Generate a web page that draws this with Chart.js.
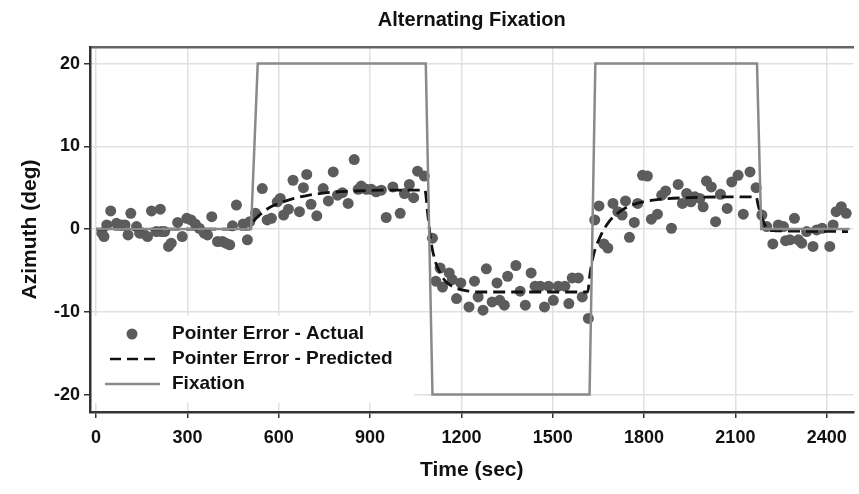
<!DOCTYPE html>
<html>
<head>
<meta charset="utf-8">
<title>Alternating Fixation</title>
<script src="https://cdn.jsdelivr.net/npm/chart.js@4.4.1/dist/chart.umd.min.js"></script>
<style>
  body { margin: 0; background: #fff; }
  canvas { display: block; }
</style>
</head>
<body>
<canvas id="chart" width="859" height="494"></canvas>
<script>
// pointer error - actual (time in sec, azimuth in deg)
var actualTime = [19, 26, 35, 48, 67, 84, 95, 105, 114, 133, 143, 154, 169, 182, 198, 211, 214, 225, 238, 247,
    268, 283, 298, 312, 326, 339, 355, 366, 380, 399, 415, 426, 439, 448, 461, 483, 497, 505,
    524, 546, 562, 576, 595, 605, 616, 632, 647, 668, 681, 692, 706, 725, 746, 763, 779, 793, 809, 828,
    848, 861, 871, 888, 904, 920, 937, 953, 975, 999, 1013, 1029, 1043, 1056, 1078,
    1105, 1116, 1130, 1138, 1160, 1170, 1184, 1198, 1225, 1243, 1255, 1271, 1282, 1301, 1317, 1326, 1341,
    1352, 1379, 1393, 1410, 1429, 1442, 1459, 1473, 1486, 1502, 1518, 1540, 1553, 1564, 1584, 1597, 1617,
    1638, 1652, 1668, 1681, 1698, 1714, 1728, 1739, 1752, 1768, 1779, 1795, 1811, 1824, 1844, 1858, 1871,
    1890, 1912, 1926, 1940, 1954, 1967, 1983, 1994, 2005, 2021, 2035, 2051, 2073, 2088, 2109, 2126, 2148, 2168,
    2187, 2203, 2223, 2241, 2258, 2265, 2279, 2294, 2307, 2318, 2334, 2355, 2367, 2385, 2410, 2421, 2431, 2448, 2464];
var actualAz = [-0.5, -0.9, 0.5, 2.2, 0.7, 0.5, 0.5, -0.7, 1.9, 0.3, -0.5, -0.5, -0.9, 2.2, -0.3, 2.4, -0.3, -0.3, -2.1, -1.7,
    0.8, -0.9, 1.3, 1.1, 0.6, 0.1, -0.5, -0.7, 1.5, -1.5, -1.5, -1.7, -1.9, 0.4, 2.9, 0.6, -1.3, 0.9,
    1.9, 4.9, 1.1, 1.3, 3.3, 3.7, 1.7, 2.4, 5.9, 2.1, 5.0, 6.6, 3.0, 1.6, 4.9, 3.4, 6.9, 4.1, 4.4, 3.1,
    8.4, 4.8, 5.2, 4.8, 4.8, 4.5, 4.7, 1.4, 5.1, 1.9, 4.3, 5.4, 3.8, 7.0, 6.4,
    -1.1, -6.3, -4.7, -7.0, -5.3, -6.1, -8.4, -6.5, -9.4, -6.3, -8.2, -9.8, -4.8, -8.8, -6.5, -8.6, -9.2,
    -5.7, -4.4, -7.5, -9.2, -5.3, -6.9, -6.9, -9.4, -6.9, -8.6, -6.9, -6.9, -9.0, -5.9, -5.9, -8.2, -10.8,
    1.1, 2.8, -1.8, -2.3, 3.1, 2.1, 1.7, 3.4, -1.0, 0.8, 3.1, 6.5, 6.4, 1.2, 1.8, 4.1, 4.6,
    0.1, 5.4, 3.1, 4.3, 3.3, 3.9, 3.7, 2.7, 5.8, 5.1, 0.9, 4.2, 2.5, 5.7, 6.5, 1.8, 6.9, 5.0,
    1.7, 0.3, -1.8, 0.5, 0.3, -1.4, -1.3, 1.3, -1.3, -1.7, -0.3, -2.1, -0.1, 0.1, -2.1, 0.5, 2.1, 2.7, 1.9];

// pointer error - predicted
var predTime = [0, 505, 515, 540, 570, 600, 650, 700, 760, 850, 950, 1080, 1090, 1100, 1115, 1130, 1150, 1175, 1210, 1260, 1400, 1615,
    1622, 1635, 1655, 1685, 1720, 1760, 1830, 1950, 2168, 2176, 2192, 2208, 2230, 2470];
var predAz = [0, 0, 0.8, 1.8, 2.6, 3.1, 3.7, 4.1, 4.4, 4.6, 4.7, 4.7, 1.6, -1.5, -4.0, -5.3, -6.4, -7.0, -7.4, -7.6, -7.6, -7.6,
    -5.5, -3.0, -1.0, 0.9, 2.1, 2.9, 3.5, 3.8, 3.9, 2.7, 0.9, -0.1, -0.2, -0.3];

// fixation target
var fixTime = [0, 509, 531, 1083, 1105, 1621, 1640, 2171, 2185, 2475];
var fixAz = [0, 0, 20, 20, -20, -20, 20, 20, 0, 0];

var xTicks = [0, 300, 600, 900, 1200, 1500, 1800, 2100, 2400];
var yTicks = [-20, -10, 0, 10, 20];

var seriesNames = ["Pointer Error - Actual", "Pointer Error - Predicted", "Fixation"];

function toPoints(xs, ys) {
    var pts = [];
    for (var i = 0; i < xs.length; i++) {
        pts.push({ x: xs[i], y: ys[i] });
    }
    return pts;
}

// legend drawn inside the plot, bottom left, on a white box
var insetLegend = {
    id: 'insetLegend',
    afterDatasetsDraw: function(chart) {
        var ctx = chart.ctx;
        ctx.save();
        ctx.fillStyle = '#ffffff';
        ctx.fillRect(92, 316, 322, 87);

        // dot
        ctx.fillStyle = '#5c5c5c';
        ctx.beginPath();
        ctx.arc(132, 334, 5.5, 0, Math.PI * 2);
        ctx.fill();

        // dashed
        ctx.strokeStyle = '#111111';
        ctx.lineWidth = 2.5;
        ctx.setLineDash([11, 6]);
        ctx.beginPath();
        ctx.moveTo(110, 359);
        ctx.lineTo(156, 359);
        ctx.stroke();

        // solid
        ctx.setLineDash([]);
        ctx.strokeStyle = '#8a8a8a';
        ctx.beginPath();
        ctx.moveTo(105, 384);
        ctx.lineTo(160, 384);
        ctx.stroke();

        ctx.fillStyle = '#111111';
        ctx.font = 'bold 19px "Liberation Sans", Arial, sans-serif';
        ctx.textBaseline = 'middle';
        ctx.textAlign = 'left';
        ctx.fillText(seriesNames[0], 172, 334);
        ctx.fillText(seriesNames[1], 172, 359);
        ctx.fillText(seriesNames[2], 172, 384);
        ctx.restore();
    }
};

window.onload = function() {
    new Chart(document.getElementById("chart"), {
        type: 'scatter',
        data: {
            datasets: [{
                label: seriesNames[2],
                data: toPoints(fixTime, fixAz),
                showLine: true,
                borderColor: '#8a8a8a',
                borderWidth: 2.5,
                pointRadius: 0,
                fill: false
            }, {
                label: seriesNames[1],
                data: toPoints(predTime, predAz),
                showLine: true,
                borderColor: '#111111',
                borderWidth: 2.8,
                borderDash: [12, 6],
                cubicInterpolationMode: 'monotone',
                pointRadius: 0,
                fill: false
            }, {
                label: seriesNames[0],
                data: toPoints(actualTime, actualAz),
                backgroundColor: '#5c5c5c',
                borderWidth: 0,
                pointRadius: 5.5
            }]
        },
        options: {
            responsive: false,
            animation: false,
            layout: { padding: 0 },
            plugins: {
                legend: { display: false },
                tooltip: { enabled: false },
                title: {
                    display: true,
                    text: 'Alternating Fixation',
                    fullSize: false,
                    color: '#111111',
                    font: { family: '"Liberation Sans", Arial, sans-serif', size: 20, weight: 'bold' },
                    padding: { top: 8, bottom: 15 }
                }
            },
            scales: {
                x: {
                    type: 'linear',
                    min: -20,
                    max: 2488,
                    afterBuildTicks: function(scale) {
                        scale.ticks = xTicks.map(function(v) { return { value: v }; });
                    },
                    afterFit: function(scale) { scale.height = 82; },
                    grid: { color: '#e0e0e0', lineWidth: 1.5, tickColor: '#333333', tickLength: 6, tickWidth: 1.5 },
                    border: { color: '#333333', width: 2.5 },
                    ticks: {
                        color: '#111111',
                        padding: 9,
                        maxRotation: 0,
                        callback: function(v) { return String(v); },
                        font: { family: '"Liberation Sans", Arial, sans-serif', size: 18, weight: 'bold' }
                    },
                    title: {
                        display: true,
                        text: 'Time (sec)',
                        color: '#111111',
                        font: { family: '"Liberation Sans", Arial, sans-serif', size: 21, weight: 'bold' },
                        padding: { top: 0, bottom: 11.4 }
                    }
                },
                x2: {
                    type: 'linear',
                    position: 'top',
                    min: -20,
                    max: 2488,
                    afterFit: function(scale) { scale.height = 0; },
                    grid: { display: false, drawTicks: false },
                    ticks: { display: false },
                    border: { color: '#666666', width: 2.5 }
                },
                y: {
                    type: 'linear',
                    min: -22.1,
                    max: 22.0,
                    afterBuildTicks: function(scale) {
                        scale.ticks = yTicks.map(function(v) { return { value: v }; });
                    },
                    afterFit: function(scale) { scale.width = 90; },
                    grid: { color: '#e0e0e0', lineWidth: 1.5, tickColor: '#333333', tickLength: 6, tickWidth: 1.5 },
                    border: { color: '#333333', width: 2.5 },
                    ticks: {
                        color: '#111111',
                        padding: 4,
                        font: { family: '"Liberation Sans", Arial, sans-serif', size: 18, weight: 'bold' }
                    },
                    title: {
                        display: true,
                        text: 'Azimuth (deg)',
                        color: '#111111',
                        font: { family: '"Liberation Sans", Arial, sans-serif', size: 21, weight: 'bold' },
                        padding: { top: 17.4, bottom: 0 }
                    }
                }
            }
        },
        plugins: [insetLegend]
    });
};
</script>
</body>
</html>
